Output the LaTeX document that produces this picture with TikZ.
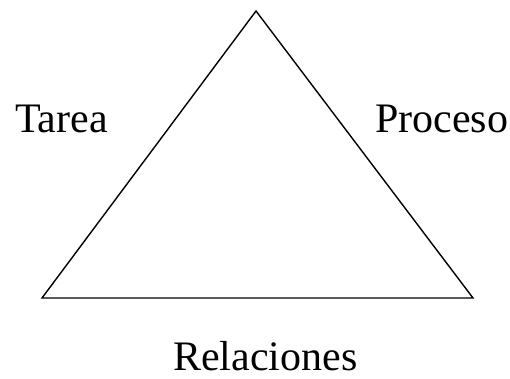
\documentclass[tikz,border=0pt]{standalone}
\usepackage{fontspec}
\setmainfont{Liberation Serif}
\begin{document}
\begin{tikzpicture}[x=1pt,y=-1pt,
  lbl/.style={font=\fontsize{42}{48}\selectfont, inner sep=0pt, anchor=base west},
  edge/.style={draw=black, line width=1.4pt, line join=miter}]
\useasboundingbox (0,0) rectangle (510,379);
\coordinate (top) at (256,11);
\coordinate (bl) at (42,298);
\coordinate (br) at (473,298);
\draw[edge] (top) -- (br) -- (bl) -- cycle;
\node[lbl] (tarea) at (15,133) {Tarea};
\node[lbl] (proceso) at (375,133) {Proceso};
\node[lbl] (rel) at (173,370) {Relaciones};
\end{tikzpicture}
\end{document}
